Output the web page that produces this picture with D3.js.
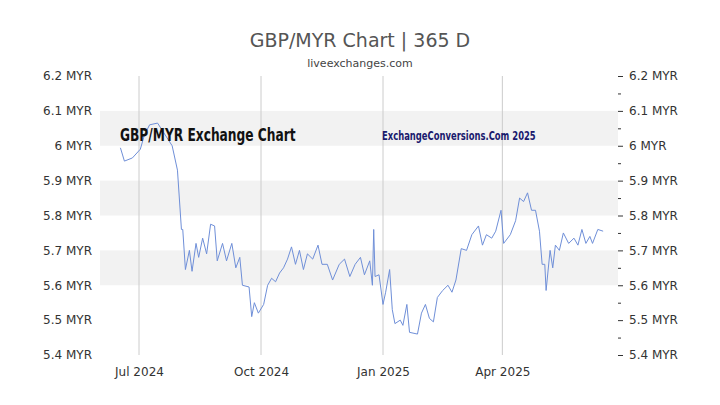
<!DOCTYPE html>
<html><head><meta charset="utf-8">
<script src="https://cdn.jsdelivr.net/npm/d3@7"></script>
<style>body{margin:0;background:#fff}svg{display:block;font-family:"DejaVu Sans",sans-serif}</style>
</head><body><svg id="c" width="720" height="405"></svg>
<script>
const dates=["2024-06-17","2024-06-20","2024-06-26","2024-07-02","2024-07-05","2024-07-09","2024-07-15","2024-07-26","2024-07-30","2024-08-02","2024-08-03","2024-08-05","2024-08-08","2024-08-10","2024-08-13","2024-08-15","2024-08-18","2024-08-21","2024-08-24","2024-08-27","2024-08-29","2024-09-02","2024-09-05","2024-09-09","2024-09-12","2024-09-15","2024-09-17","2024-09-22","2024-09-24","2024-09-26","2024-09-29","2024-10-03","2024-10-06","2024-10-09","2024-10-12","2024-10-15","2024-10-18","2024-10-21","2024-10-24","2024-10-27","2024-10-30","2024-11-02","2024-11-05","2024-11-09","2024-11-13","2024-11-16","2024-11-20","2024-11-24","2024-11-29","2024-12-03","2024-12-07","2024-12-11","2024-12-15","2024-12-18","2024-12-22","2024-12-24","2024-12-25","2024-12-26","2024-12-29","2025-01-01","2025-01-03","2025-01-06","2025-01-08","2025-01-10","2025-01-14","2025-01-16","2025-01-19","2025-01-21","2025-01-27","2025-01-30","2025-02-02","2025-02-05","2025-02-08","2025-02-11","2025-02-15","2025-02-19","2025-02-22","2025-02-25","2025-03-01","2025-03-05","2025-03-09","2025-03-14","2025-03-17","2025-03-20","2025-03-24","2025-03-27","2025-03-31","2025-04-02","2025-04-07","2025-04-11","2025-04-14","2025-04-17","2025-04-20","2025-04-23","2025-04-26","2025-04-29","2025-05-01","2025-05-03","2025-05-04","2025-05-07","2025-05-09","2025-05-11","2025-05-14","2025-05-17","2025-05-21","2025-05-25","2025-05-28","2025-05-31","2025-06-03","2025-06-06","2025-06-08","2025-06-12","2025-06-16"];
const rates=[5.994,5.956,5.965,5.99,6.03,6.06,6.065,6.0,5.93,5.76,5.76,5.645,5.70,5.64,5.72,5.68,5.735,5.69,5.775,5.77,5.67,5.72,5.67,5.72,5.65,5.68,5.60,5.595,5.51,5.55,5.52,5.545,5.60,5.62,5.61,5.635,5.65,5.675,5.71,5.66,5.70,5.645,5.69,5.675,5.715,5.66,5.66,5.615,5.66,5.675,5.625,5.66,5.68,5.63,5.67,5.60,5.76,5.625,5.63,5.545,5.58,5.645,5.53,5.49,5.50,5.485,5.545,5.465,5.46,5.52,5.545,5.505,5.495,5.565,5.585,5.60,5.58,5.615,5.705,5.70,5.745,5.77,5.715,5.745,5.735,5.755,5.815,5.72,5.745,5.785,5.85,5.84,5.865,5.815,5.815,5.755,5.66,5.66,5.585,5.70,5.65,5.715,5.70,5.75,5.72,5.735,5.715,5.76,5.72,5.74,5.72,5.76,5.755];
const yTicks=[5.4,5.5,5.6,5.7,5.8,5.9,6.0,6.1,6.2];
const xTicks=["2024-07-01","2024-10-01","2025-01-01","2025-04-01"];
const xTickLabels=["Jul 2024","Oct 2024","Jan 2025","Apr 2025"];

const svg=d3.select("#c");
const L=100,R=618,T=76,B=355;
const p=d3.utcParse("%Y-%m-%d");
const x=d3.scaleUtc().domain([p("2024-07-01"),p("2025-01-01")]).range([139,383]);
const y=d3.scaleLinear().domain([5.4,6.2]).range([B,T]);

[[6.0,6.1],[5.8,5.9],[5.6,5.7]].forEach(b=>svg.append("rect").attr("x",L).attr("width",R-L).attr("y",y(b[1])).attr("height",y(b[0])-y(b[1])).attr("fill","#f2f2f2"));
xTicks.forEach(d=>svg.append("line").attr("x1",x(p(d))).attr("x2",x(p(d))).attr("y1",T).attr("y2",B).attr("stroke","#ccc").attr("stroke-width",1));

const fmt=v=>(v===6?"6":d3.format(".1f")(v))+" MYR";
const ya=svg.append("g").attr("transform",`translate(${L},0)`).call(d3.axisLeft(y).tickValues(yTicks).tickFormat(fmt).tickSize(0).tickPadding(8));
ya.select(".domain").remove();
const yr=svg.append("g").attr("transform",`translate(${R},0)`).call(d3.axisRight(y).tickValues(yTicks).tickFormat(fmt).tickSize(5).tickPadding(6));
yr.select(".domain").remove();
const minor=d3.range(5.45,6.2,0.1);
svg.append("g").attr("transform",`translate(${R},0)`).call(d3.axisRight(y).tickValues(minor).tickFormat("").tickSize(3)).select(".domain").remove();
svg.selectAll(".tick line").attr("stroke","#333");
const xa=svg.append("g").attr("transform",`translate(0,${B})`).call(d3.axisBottom(x).tickValues(xTicks.map(p)).tickFormat((d,i)=>xTickLabels[i]).tickSize(0).tickPadding(12));
xa.select(".domain").remove();
svg.selectAll(".tick text").attr("font-size",12).attr("fill","#333").attr("font-family","DejaVu Sans");

svg.append("path").datum(dates.map((d,i)=>[p(d),rates[i]]))
  .attr("d",d3.line().x(d=>x(d[0])).y(d=>y(d[1])))
  .attr("fill","none").attr("stroke","#6f8fd8").attr("stroke-width",1);

svg.append("text").attr("x",360).attr("y",47).attr("text-anchor","middle").attr("font-size",19).attr("fill","#555").text("GBP/MYR Chart | 365 D");
svg.append("text").attr("x",360).attr("y",67).attr("text-anchor","middle").attr("font-size",11).attr("fill","#444").text("liveexchanges.com");
svg.append("text").attr("x",120).attr("y",141).attr("font-size",17).attr("font-weight","bold").attr("font-family","DejaVu Sans Condensed, Liberation Sans Narrow").attr("transform","translate(120,0) scale(0.8,1) translate(-120,0)").attr("fill","#111").text("GBP/MYR Exchange Chart");
svg.append("text").attr("x",382).attr("y",140).attr("font-size",13).attr("font-weight","bold").attr("font-family","DejaVu Sans Condensed").attr("transform","translate(382,0) scale(0.72,1) translate(-382,0)").attr("fill","#1a1a6e").text("ExchangeConversions.Com 2025");
</script></body></html>
